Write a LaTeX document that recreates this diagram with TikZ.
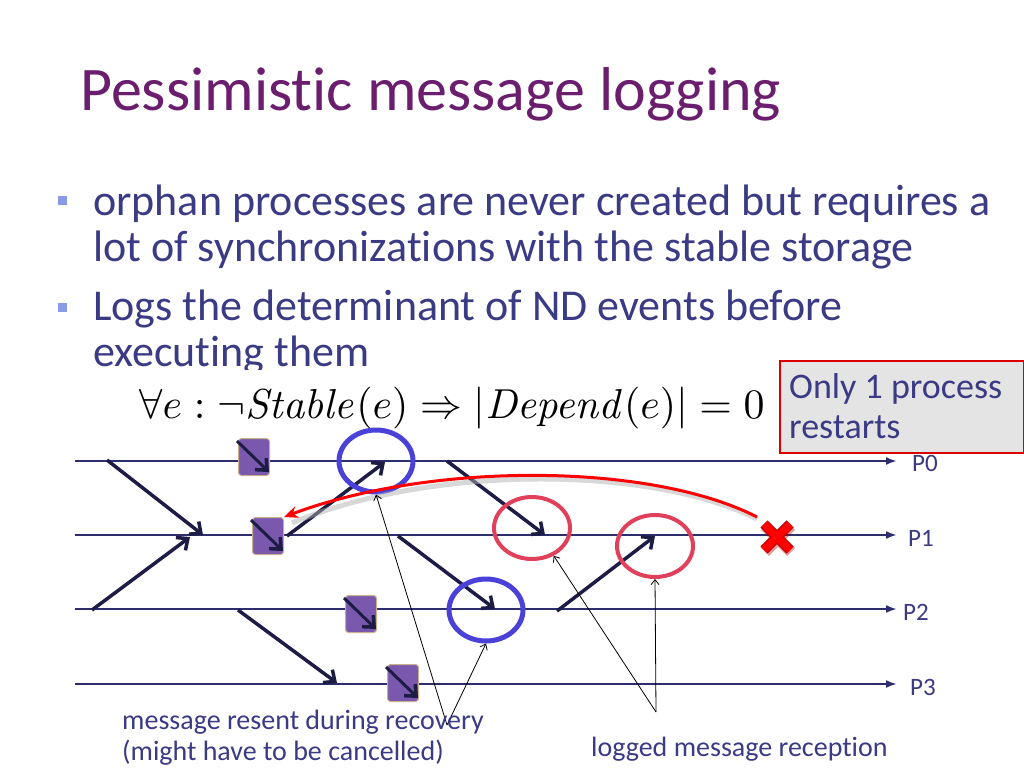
\documentclass[tikz,border=0pt]{standalone}
\usepackage[no-math]{fontspec}
\setmainfont{Carlito}[Ligatures=NoCommon]
\usepackage{graphicx}
\usetikzlibrary{arrows.meta,shapes.geometric}
\definecolor{titlec}{HTML}{6B1E6E}
\definecolor{textc}{HTML}{3A3A85}
\definecolor{bulletc}{HTML}{8A9AE6}
\definecolor{linec}{HTML}{2E2E6E}
\definecolor{msgc}{HTML}{1C1C45}
\definecolor{sqc}{HTML}{7A58AE}
\definecolor{sqb}{HTML}{C8B08A}
\definecolor{bluec}{HTML}{4A42D8}
\definecolor{redc}{HTML}{E0405A}
\definecolor{boxc}{HTML}{E4E4E4}
\tikzset{
  proc/.style={draw=linec, line width=2.5pt, -{Latex[length=11pt,width=8pt]}},
  msg/.style={draw=msgc, line width=3.5pt, -{Straight Barb[length=9pt,width=16pt,line width=3.5pt]}},
  logsq/.style={fill=sqc, draw=sqb, line width=1pt, rounded corners=3pt, minimum width=31pt, minimum height=37pt, inner sep=0pt},
  bluering/.style={ellipse, draw=bluec, line width=5pt, minimum width=74pt, minimum height=62pt, inner sep=0pt},
  redring/.style={ellipse, draw=redc, line width=4pt, minimum width=76pt, minimum height=62pt, inner sep=0pt},
  note/.style={draw=black, line width=0.8pt, -{Straight Barb[length=5pt,width=8pt]}},
  bodytext/.style={anchor=base west, inner sep=0pt, text=textc, font=\fontsize{44}{52}\selectfont},
  lbl/.style={anchor=base west, inner sep=0pt, text=textc, font=\fontsize{28}{32}\selectfont},
  plbl/.style={anchor=base west, inner sep=0pt, text=textc, font=\fontsize{25}{30}\selectfont},
  bul/.style={fill=bulletc, minimum size=9pt, inner sep=0pt},
}
\begin{document}
\begin{tikzpicture}[x=1pt,y=-1pt]
\useasboundingbox (0,0) rectangle (1024,768);
\fill[white] (0,0) rectangle (1024,768);
% title
\node[anchor=base west, inner sep=0pt, text=titlec, font=\fontsize{62}{70}\selectfont] (title) at (80,110) {Pessimistic message logging};
% bullets
\node[bul] (b1) at (62,200) {};
\node[bodytext] (t1) at (93,215) {orphan processes are never created but requires a};
\node[bodytext] (t2) at (93,261) {lot of synchronizations with the stable storage};
\node[bul] (b2) at (62,307) {};
\node[bodytext] (t3) at (93,320) {Logs the determinant of ND events before};
\node[bodytext] (t4) at (93,366) {executing them};
% formula with white background
\fill[white] (120,370) rectangle (770,440);
\node[anchor=center, inner sep=0pt] (formula) at (452,408) {\resizebox{625pt}{!}{$\forall e:\neg \mathit{Stable}(e)\Rightarrow|\mathit{Depend}(e)|=0$}};
% process lines
\foreach \i/\y in {0/461,1/535,2/609,3/684}{
  \coordinate (L\i s) at (75,\y);
  \coordinate (L\i e) at (897,\y);
  \draw[proc] (L\i s) -- (L\i e);
}
\node[plbl] (p0) at (912,471) {P0};
\node[plbl] (p1) at (908,546) {P1};
\node[plbl] (p2) at (903,620) {P2};
\node[plbl] (p3) at (910,695) {P3};
% box
\node[draw=red!85!black, fill=boxc, line width=1.5pt, minimum width=244pt, minimum height=92pt, inner sep=0pt, anchor=north west] (box) at (779,360) {};
\node[lbl, font=\fontsize{36}{40}\selectfont] (bx1) at (789,398) {Only 1 process};
\node[lbl, font=\fontsize{36}{40}\selectfont] (bx2) at (789,438) {restarts};
% log squares
\node[logsq] (s0) at (254,457) {};
\node[logsq] (s1) at (268,536) {};
\node[logsq] (s2) at (361,614) {};
\node[logsq] (s3) at (403,683) {};
\foreach \s in {s0,s1,s2,s3}{
  \draw[msg, line width=3pt] (\s.north west) ++(-1,3) coordinate (\s a) -- ([shift={(-1,-4)}]\s.south east);
}
% messages
\coordinate (m1a) at (107,460); \coordinate (m1b) at (203,535);
\coordinate (m2a) at (92,610);  \coordinate (m2b) at (190,537);
\coordinate (m3a) at (287,536); \coordinate (m3b) at (385,462);
\coordinate (m4a) at (238,610); \coordinate (m4b) at (337,683);
\coordinate (m5a) at (398,536); \coordinate (m5b) at (495,609);
\coordinate (m6a) at (447,461); \coordinate (m6b) at (545,535);
\coordinate (m7a) at (557,611); \coordinate (m7b) at (655,536);
\foreach \m in {m1,m2,m3,m4,m5,m6,m7}{\draw[msg] (\m a) -- (\m b);}
% rings
\node[bluering] (c1) at (376,461) {};
\node[bluering] (c2) at (486,610) {};
\node[redring] (r1) at (532,528) {};
\node[redring] (r2) at (655,546) {};
% red rollback curve
\coordinate (xc) at (777,537);
\coordinate (rs) at (757,517);
\draw[gray!60, line width=5pt, opacity=0.5] ([shift={(0,2)}]rs) .. controls (650,465) and (430,465) .. (292,523);
\draw[red, line width=3pt, -{Stealth[length=14pt,width=12pt]}] (rs) .. controls (650,462) and (430,462) .. (s1.north east);
% red cross
\draw[red!70!black, line width=11pt, opacity=0.4] (765,526) -- (791,552) (765,552) -- (791,526);
\draw[red!75!black, line width=10pt] (764,524) -- (790,550) (764,550) -- (790,524);
\draw[red, line width=7.5pt] (764,524) -- (790,550) (764,550) -- (790,524);
% annotations
\coordinate (v1) at (447,725);
\coordinate (v2) at (656,712);
\draw[note] (v1) -- (c1.south);
\draw[note] (v1) -- (c2.south);
\draw[note] (v2) -- (r1.-52);
\draw[note] (v2) -- (r2.south);
\node[lbl] (a1) at (122,729) {message resent during recovery};
\node[lbl] (a2) at (122,760) {(might have to be cancelled)};
\node[lbl] (a3) at (591,756) {logged message reception};
\end{tikzpicture}
\end{document}
